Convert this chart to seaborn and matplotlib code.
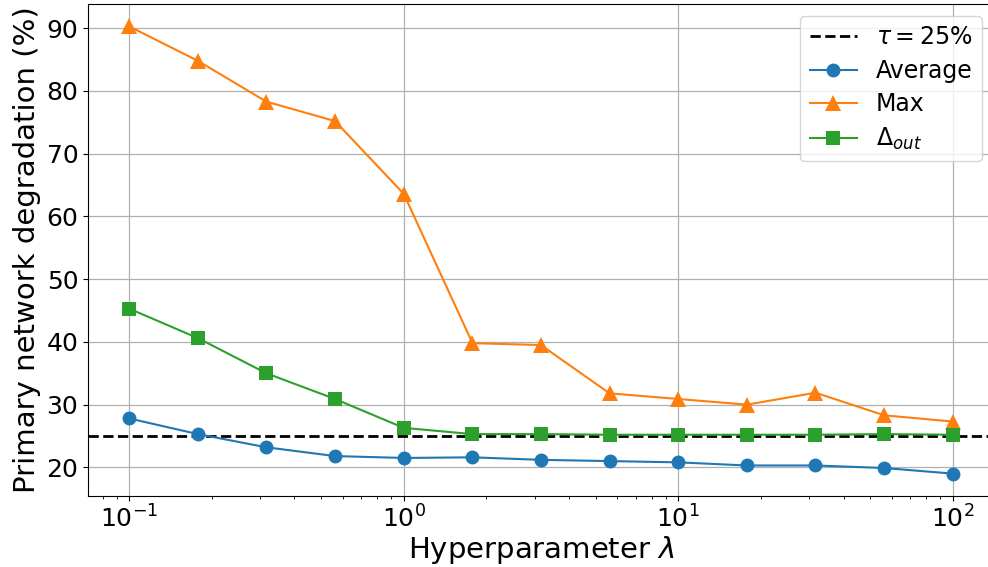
import pandas as pd
import matplotlib
matplotlib.use('Agg')
import matplotlib.pyplot as plt
import seaborn as sns

# Valeurs
lambdas = [0.1, 0.178, 0.316, 0.562, 1.0, 1.78, 3.16, 5.62, 10.0, 17.8, 31.6, 56.2, 100.0]
average = [27.8, 25.3, 23.2, 21.8, 21.5, 21.6, 21.2, 21.0, 20.8, 20.3, 20.3, 19.9, 19.0]
maximum = [90.3, 84.8, 78.3, 75.2, 63.6, 39.8, 39.5, 31.8, 30.9, 30.0, 31.9, 28.3, 27.3]
delta_out = [45.3, 40.6, 35.0, 30.9, 26.3, 25.3, 25.3, 25.2, 25.2, 25.2, 25.2, 25.3, 25.2]
tau = 25

df = pd.DataFrame({'lambda': lambdas, 'Average': average, 'Max': maximum, 'Delta': delta_out})

W, H = 988, 567
fig = plt.figure(figsize=(W / 100, H / 100), dpi=100)
# l'image d'origine est rognée à droite : l'axe dépasse un peu
ax = fig.add_axes([88 / W, (H - 496) / H, (994 - 88) / W, (496 - 4) / H])

ax.axhline(tau, color='black', linestyle='--', linewidth=2, label=r'$\tau = 25\%$')
sns.lineplot(data=df, x='lambda', y='Average', marker='o', markersize=10,
             markeredgewidth=0, color='C0', label='Average', ax=ax)
sns.lineplot(data=df, x='lambda', y='Max', marker='^', markersize=11,
             markeredgewidth=0, color='C1', label='Max', ax=ax)
sns.lineplot(data=df, x='lambda', y='Delta', marker='s', markersize=10,
             markeredgewidth=0, color='C2', label=r'$\Delta_{out}$', ax=ax)

ax.set_xscale('log')
ax.grid(True, color='#b0b0b0', linewidth=0.9)
ax.set_xlabel(r'Hyperparameter $\lambda$', fontsize=21, labelpad=1)
ax.set_ylabel('Primary network degradation (%)', fontsize=21)
ax.tick_params(labelsize=18)
ax.legend(fontsize=17, loc='upper right', labelspacing=0.4, borderaxespad=0,
          bbox_to_anchor=(982 / W, 1 - 16 / H), bbox_transform=fig.transFigure)

plt.savefig('out.png', dpi=100)
